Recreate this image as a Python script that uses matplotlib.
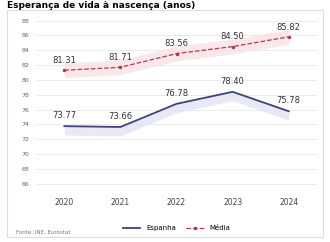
import matplotlib.pyplot as plt
import numpy as np

# data (approximate)
years = ['2020', '2021', '2022', '2023', '2024']
lower = [73.77, 73.66, 76.78, 78.40, 75.78]
upper = [81.31, 81.71, 83.56, 84.50, 85.82]
lower_name = 'Espanha'
upper_name = 'Média'
yticks = [66, 68, 70, 72, 74, 76, 78, 80, 82, 84, 86, 88]

fig = plt.figure(figsize=(3.3, 2.42), dpi=100)
fig.patch.set_facecolor('white')

# outer frame
frame = plt.Rectangle((0.02, 0.02), 0.96, 0.94, transform=fig.transFigure,
                      fill=False, edgecolor='#dddddd', linewidth=0.8)
fig.add_artist(frame)

fig.text(0.02, 0.995, 'Esperança de vida à nascença (anos)', fontsize=6.5,
         fontweight='bold', va='top', ha='left')

ax = fig.add_axes([0.11, 0.21, 0.85, 0.72])
x = np.arange(len(years))

ax.fill_between(x, np.array(upper) - 1.0, np.array(upper) + 1.0,
                color='#f9dde3', alpha=0.7, linewidth=0)
ax.fill_between(x, np.array(lower) - 1.2, np.array(lower),
                color='#e4e4f4', alpha=0.8, linewidth=0)

ax.plot(x, lower, color='#3c4378', linewidth=1.3, label=lower_name)
ax.plot(x, upper, color='#b03a4a', linewidth=0.9, linestyle='--',
        marker='o', markersize=1.5, label=upper_name)

for xi, v in zip(x, lower):
    ax.text(xi, v + 0.8, f'{v:.2f}', fontsize=6, ha='center', va='bottom',
            color='#333333')
for xi, v in zip(x, upper):
    ax.text(xi, v + 0.7, f'{v:.2f}', fontsize=6, ha='center', va='bottom',
            color='#333333')

ax.set_xlim(-0.5, len(years) - 0.5)
ax.set_ylim(65, 88.5)
ax.set_yticks(yticks)
ax.set_yticklabels([str(t) for t in yticks], fontsize=4.5, color='#666666')
ax.set_xticks(x)
ax.set_xticklabels(years, fontsize=5.5, color='#444444')
ax.tick_params(length=0, pad=5)
ax.grid(axis='y', color='#e6e6e6', linewidth=0.6)
ax.set_axisbelow(True)
for s in ax.spines.values():
    s.set_visible(False)

ax.legend(loc='upper center', bbox_to_anchor=(0.5, -0.16), ncol=2,
          fontsize=5, frameon=False, handlelength=2.5, columnspacing=1.5)

fig.text(0.05, 0.03, 'Fonte: INE, Eurostat', fontsize=4, color='#777777',
         ha='left', va='bottom')

plt.savefig('out.png', dpi=100)
